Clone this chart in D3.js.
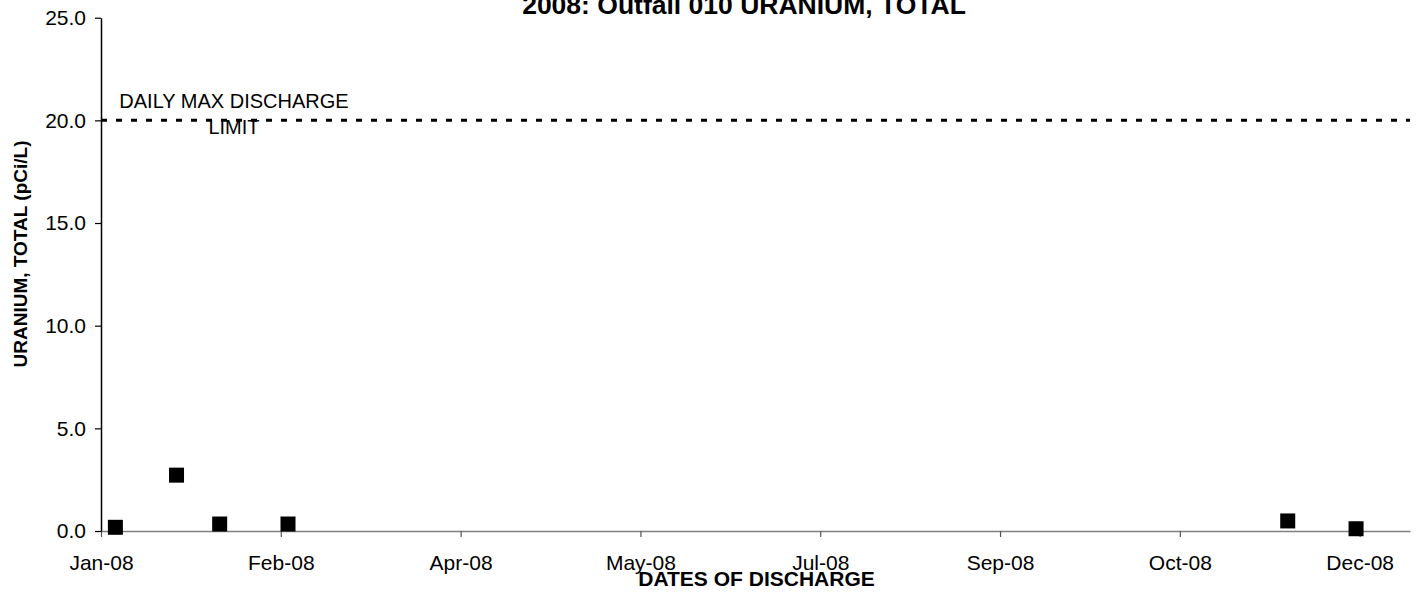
<!DOCTYPE html>
<html>
<head>
<meta charset="utf-8">
<script src="https://cdnjs.cloudflare.com/ajax/libs/d3/7.8.5/d3.min.js"></script>
<style>
  body { margin: 0; background: #fff; }
  text { font-family: Arial, "Liberation Sans", sans-serif; fill: #000; }
</style>
</head>
<body>
<div id="chart"></div>
<script>
// sample dates and results
var sampleDates = ["2008-01-05", "2008-01-22", "2008-02-03", "2008-02-22", "2008-11-26", "2008-12-15"];
var uranium = [0.18, 2.72, 0.34, 0.34, 0.49, 0.11];

// axis settings
var dateRange = ["2008-01-01", "2008-12-30"];
var tickDates = ["2008-01-01", "2008-02-20", "2008-04-10", "2008-05-30", "2008-07-19", "2008-09-07", "2008-10-27", "2008-12-16"];
var yTicks = [0, 5, 10, 15, 20, 25];
var dailyMaxLimit = 20;

var parseDate = d3.utcParse("%Y-%m-%d");

var margin = {top: 17.7, right: 8, bottom: 63, left: 101},
    width = 1418 - margin.left - margin.right,
    height = 594 - margin.top - margin.bottom;

var svg = d3.select("#chart").append("svg")
    .attr("width", 1418)
    .attr("height", 594);

var g = svg.append("g")
    .attr("transform", "translate(" + margin.left + "," + margin.top + ")");

var x = d3.scaleUtc()
    .domain(dateRange.map(parseDate))
    .range([0, width]);
var y = d3.scaleLinear()
    .domain([0, 25])
    .range([height, 0]);

var data = sampleDates.map(function(d, i) {
  return {date: parseDate(d), value: uranium[i]};
});

// x axis (grey)
var xAxis = g.append("g")
    .attr("transform", "translate(0," + height + ")")
    .call(d3.axisBottom(x)
      .tickValues(tickDates.map(parseDate))
      .tickFormat(d3.utcFormat("%b-%y"))
      .tickSizeInner(6)
      .tickSizeOuter(0)
      .tickPadding(18));
xAxis.select(".domain").attr("stroke", "#808080").attr("stroke-width", 1.5);
xAxis.selectAll(".tick line").attr("stroke", "#555").attr("stroke-width", 1.2);
xAxis.selectAll("text")
    .style("font-size", "21px")
    .attr("fill", "#000");

// y axis (black)
var yAxis = g.append("g")
    .call(d3.axisLeft(y)
      .tickValues(yTicks)
      .tickFormat(d3.format(".1f"))
      .tickSizeInner(6)
      .tickSizeOuter(0)
      .tickPadding(9));
yAxis.select(".domain").attr("stroke", "#000").attr("stroke-width", 1.5);
yAxis.selectAll(".tick line").attr("stroke", "#000").attr("stroke-width", 1.2);
yAxis.selectAll("text")
    .style("font-size", "21px")
    .attr("fill", "#000");

// daily max discharge limit
g.append("line")
    .attr("x1", 0)
    .attr("x2", width)
    .attr("y1", y(dailyMaxLimit))
    .attr("y2", y(dailyMaxLimit))
    .attr("stroke", "#000")
    .attr("stroke-width", 3)
    .attr("stroke-dasharray", "6,9");

var limitLabel = g.append("text")
    .attr("x", 133)
    .attr("y", y(dailyMaxLimit) - 12)
    .style("text-anchor", "middle")
    .style("font-size", "20px");
limitLabel.append("tspan").attr("x", 133).text("DAILY MAX DISCHARGE");
limitLabel.append("tspan").attr("x", 133).attr("dy", 26).text("LIMIT");

// sample results as squares
var size = 15;
g.selectAll(".pt")
    .data(data)
  .enter().append("rect")
    .attr("class", "pt")
    .attr("x", function(d) { return x(d.date) - size / 2; })
    .attr("y", function(d) { return y(d.value) - size / 2; })
    .attr("width", size)
    .attr("height", size)
    .attr("fill", "#000");

// title (top is clipped in the original as well)
svg.append("text")
    .attr("x", 744)
    .attr("y", 13.5)
    .style("text-anchor", "middle")
    .style("font-size", "26.5px")
    .style("font-weight", "bold")
    .text("2008: Outfall 010 URANIUM, TOTAL");

// x axis label
svg.append("text")
    .attr("x", 756.5)
    .attr("y", 585.5)
    .style("text-anchor", "middle")
    .style("font-size", "21px")
    .style("font-weight", "bold")
    .text("DATES OF DISCHARGE");

// y axis label
svg.append("text")
    .attr("transform", "translate(27.3,254)rotate(-90)")
    .style("text-anchor", "middle")
    .style("font-size", "19px")
    .style("font-weight", "bold")
    .text("URANIUM, TOTAL (pCi/L)");
</script>
</body>
</html>
